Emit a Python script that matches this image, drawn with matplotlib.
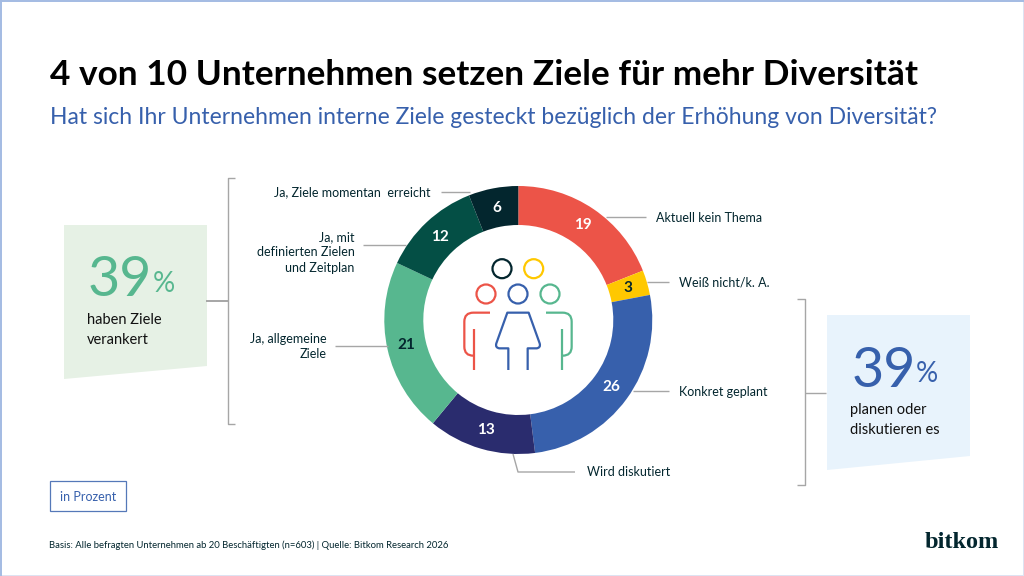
import numpy as np
import matplotlib
matplotlib.use("Agg")
import matplotlib.pyplot as plt
from matplotlib.patches import Polygon, Rectangle, Circle
from matplotlib.path import Path
from matplotlib.patches import PathPatch

plt.rcParams['font.family'] = ['Lato', 'DejaVu Sans']

categories = ["Aktuell kein Thema", "Weiß nicht/k. A.", "Konkret geplant", "Wird diskutiert",
              "Ja, allgemeine\nZiele", "Ja, mit\ndefinierten Zielen\nund Zeitplan", "Ja, Ziele momentan  erreicht"]
values = [19, 3, 26, 13, 21, 12, 6]
colors = ["#EC5448", "#FFC800", "#3760AC", "#2A2C6E", "#57B78F", "#044F45", "#03262E"]
value_colors = ["white", "#03262E", "white", "white", "#03262E", "white", "white"]

title = "4 von 10 Unternehmen setzen Ziele für mehr Diversität"
subtitle = "Hat sich Ihr Unternehmen interne Ziele gesteckt bezüglich der Erhöhung von Diversität?"
footer = "Basis: Alle befragten Unternehmen ab 20 Beschäftigten (n=603) | Quelle: Bitkom Research 2026"

W, H = 1024, 576
DARK = "#03262E"
GREY = "#A6A6A6"
BLUE = "#3760AC"
GREEN = "#57B78F"

fig = plt.figure(figsize=(W / 100, H / 100), dpi=100, facecolor="white")
bg = fig.add_axes([0, 0, 1, 1])
bg.set_xlim(0, W)
bg.set_ylim(H, 0)
bg.axis("off")

# page border: stronger on top and left, faint on bottom and right
bg.plot([0, W], [H - 0.5, H - 0.5], color="#DDE3F2", lw=1.4)
bg.plot([W - 0.5, W - 0.5], [0, H], color="#DDE3F2", lw=1.4)
bg.plot([0, W], [0.5, 0.5], color="#A3BBE3", lw=1.4)
bg.plot([0.5, 0.5], [0, H], color="#A3BBE3", lw=1.4)

# titles
bg.text(49.5, 85, title, fontsize=25.38, fontweight="bold", color="black", va="baseline", ha="left")
bg.text(49.5, 124.5, subtitle, fontsize=16.5, color=BLUE, va="baseline", ha="left")

# donut
cx, cy, R, r = 518.3, 320, 134, 95
pie_ax = fig.add_axes([(cx - R) / W, 1 - (cy + R) / H, 2 * R / W, 2 * R / H])
wedges, _ = pie_ax.pie(values, colors=colors, startangle=90, counterclock=False, radius=1,
                       wedgeprops=dict(width=(R - r) / R, linewidth=0))
pie_ax.set_xlim(-1, 1)
pie_ax.set_ylim(-1, 1)
mid = (1 + r / R) / 2
for w, v, c in zip(wedges, values, value_colors):
    a = np.deg2rad((w.theta1 + w.theta2) / 2)
    pie_ax.text(mid * np.cos(a), mid * np.sin(a), str(v), color=c, fontsize=11, fontweight="bold",
                ha="center", va="center")

# overlay for leaders and icon
ov = fig.add_axes([0, 0, 1, 1])
ov.set_xlim(0, W)
ov.set_ylim(H, 0)
ov.axis("off")
ov.patch.set_alpha(0)


def line(xs, ys, color=GREY, lw=1.0, a=ov):
    a.plot(xs, ys, color=color, lw=lw, solid_capstyle="butt", solid_joinstyle="round")


# leaders
line([441, 470], [192, 192])
line([606, 646], [217, 217])
line([647, 669], [282, 282])
line([633, 669], [391, 391])
line([513, 518, 575], [454, 472, 472])
line([363, 406], [245, 245])
line([335, 388], [346, 346])

# category labels
lab = dict(fontsize=9, color=DARK, linespacing=1.37, va="center")
ov.text(656, 217.5, categories[0], ha="left", **lab)
ov.text(679, 282.5, categories[1], ha="left", **lab)
ov.text(679, 392.5, categories[2], ha="left", **lab)
ov.text(587, 472.5, categories[3], ha="left", **lab)
ov.text(327, 346.5, categories[4], ha="right", multialignment="right", **lab)
ov.text(354.5, 252.5, categories[5], ha="right", multialignment="right", **lab)
ov.text(430, 192.5, categories[6], ha="right", **lab)

# brackets
line([235, 227.7, 227.7, 235], [177.5, 177.5, 424, 424])
line([206, 227.7], [300.7, 300.7], lw=1.4)
line([797, 804.7, 804.7, 797], [299, 299, 485, 485])
line([805, 826], [392.5, 392.5])

# callout boxes
ov.add_patch(Polygon([(64, 225), (207, 225), (207, 366), (64, 379)], closed=True, fc="#E6F1E5", ec="none"))
ov.add_patch(Polygon([(827, 315), (970, 315), (970, 456), (827, 470)], closed=True, fc="#E8F3FC", ec="none"))

ov.text(88, 296, "39", fontsize=40, color=GREEN, va="baseline", ha="left")
ov.text(152.5, 292, "%", fontsize=20, color=GREEN, va="baseline", ha="left")
ov.text(87, 324, "haben Ziele", fontsize=10.5, color="#111111", va="baseline", ha="left")
ov.text(87, 344, "verankert", fontsize=10.5, color="#111111", va="baseline", ha="left")

ov.text(851.5, 387, "39", fontsize=40, color=BLUE, va="baseline", ha="left")
ov.text(916, 382, "%", fontsize=20, color=BLUE, va="baseline", ha="left")
ov.text(850, 414, "planen oder", fontsize=10.5, color="#111111", va="baseline", ha="left")
ov.text(850, 434, "diskutieren es", fontsize=10.5, color="#111111", va="baseline", ha="left")

# in Prozent box + footer
ov.add_patch(Rectangle((50, 481.3), 75.5, 30, fill=False, ec=BLUE, lw=0.9, alpha=0.85))
ov.text(88, 497, "in Prozent", fontsize=9, color=BLUE, va="center", ha="center")
ov.text(49, 545.5, footer, fontsize=6.8, color=DARK, va="center", ha="left")

# logo
ov.text(925, 548, "bitkom", fontsize=17.5, family="Liberation Serif", color=DARK,
        va="baseline", ha="left", fontweight="bold")
ov.add_patch(Circle((941.3, 533.5), 1.5, fc="#4A74C9", ec="none"))

# icon
for (x, y, c) in [(502, 268.7, DARK), (533.7, 268.7, "#FFC800"), (486, 294, "#EC5448"),
                  (518, 294, BLUE), (550, 294, GREEN)]:
    ov.add_patch(Circle((x, y), 9.5, fill=False, ec=c, lw=1.6))


def z(p):
    return (370 + p[0] / 3, 170 + p[1] / 3)


def stroke(codes_pts, c):
    v, k = [], []
    for code, p in codes_pts:
        v.append(z(p))
        k.append(code)
    ov.add_patch(PathPatch(Path(v, k), fill=False, ec=c, lw=1.6, capstyle="butt", joinstyle="round"))


M, L, C = Path.MOVETO, Path.LINETO, Path.CURVE3
stroke([(M, (360, 428)), (L, (310, 428)), (C, (283, 428)), (C, (283, 455)), (L, (283, 530)),
        (C, (283, 557)), (C, (310, 557))], "#EC5448")
stroke([(M, (311, 478)), (L, (311, 600))], "#EC5448")
stroke([(M, (528, 428)), (L, (578, 428)), (C, (605, 428)), (C, (605, 455)), (L, (605, 530)),
        (C, (605, 557)), (C, (578, 557))], GREEN)
stroke([(M, (577, 478)), (L, (577, 600))], GREEN)
stroke([(M, (415, 600)), (L, (415, 535)), (L, (388, 535)), (C, (375, 533)), (C, (379, 520)),
        (L, (412, 428)), (L, (476, 428)), (L, (509, 520)), (C, (513, 533)), (C, (500, 535)),
        (L, (473, 535)), (L, (473, 600))], BLUE)

fig.savefig("out.png", dpi=100, facecolor="white")
